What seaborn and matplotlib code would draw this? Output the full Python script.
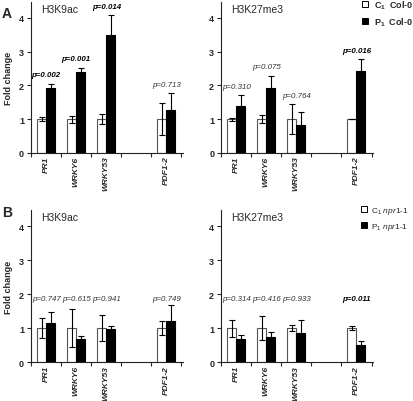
import numpy as np
import pandas as pd
import matplotlib
matplotlib.use("Agg")
import matplotlib.pyplot as plt
from matplotlib.lines import Line2D
import seaborn as sns

# genes on the x axis (one empty slot before PDF1-2)
genes = ["PR1", "WRKY6", "WRKY53", "PDF1-2"]
order = ["PR1", "WRKY6", "WRKY53", " ", "PDF1-2"]

# panel A, Col-0
a_k9_c = [1.0, 1.0, 1.0, 1.0]
a_k9_c_err = [0.05, 0.10, 0.15, 0.47]
a_k9_p = [1.92, 2.38, 3.48, 1.28]
a_k9_p_err = [0.13, 0.14, 0.59, 0.48]
a_k9_pval = ["p=0.002", "p=0.001", "p=0.014", "p=0.713"]
a_k9_sig = [True, True, True, False]

a_k27_c = [1.0, 1.0, 1.0, 1.0]
a_k27_c_err = [0.04, 0.12, 0.44, 0.01]
a_k27_p = [1.38, 1.91, 0.82, 2.42]
a_k27_p_err = [0.32, 0.37, 0.40, 0.35]
a_k27_pval = ["p=0.310", "p=0.075", "p=0.764", "p=0.016"]
a_k27_sig = [False, False, False, True]

# panel B, npr1-1
b_k9_c = [1.0, 1.0, 1.0, 1.0]
b_k9_c_err = [0.30, 0.56, 0.38, 0.20]
b_k9_p = [1.15, 0.68, 0.97, 1.22]
b_k9_p_err = [0.32, 0.08, 0.08, 0.47]
b_k9_pval = ["p=0.747", "p=0.615", "p=0.941", "p=0.749"]
b_k9_sig = [False, False, False, False]

b_k27_c = [1.0, 1.0, 1.0, 1.0]
b_k27_c_err = [0.25, 0.35, 0.09, 0.05]
b_k27_p = [0.69, 0.74, 0.85, 0.51]
b_k27_p_err = [0.10, 0.14, 0.40, 0.12]
b_k27_pval = ["p=0.314", "p=0.416", "p=0.933", "p=0.011"]
b_k27_sig = [False, False, False, True]

sns.set_style("ticks")
plt.rcParams["font.family"] = ["Liberation Sans", "DejaVu Sans"]
plt.rcParams["mathtext.fontset"] = "custom"
plt.rcParams["mathtext.rm"] = "Liberation Sans"
plt.rcParams["mathtext.it"] = "Liberation Sans:italic"
plt.rcParams["mathtext.bf"] = "Liberation Sans:bold"
plt.rcParams["axes.linewidth"] = 0.8

fig = plt.figure(figsize=(4.14, 4.02), dpi=100)
ax_a1 = fig.add_axes([0.075, 0.617, 0.367, 0.376])
ax_a2 = fig.add_axes([0.534, 0.617, 0.367, 0.376])
ax_b1 = fig.add_axes([0.075, 0.097, 0.367, 0.378])
ax_b2 = fig.add_axes([0.534, 0.097, 0.367, 0.378])


def panel(ax, title, c, c_err, p, p_err, pvals, sig, pval_y=None, ylabel=True):
    df = pd.DataFrame({
        "gene": genes * 2,
        "group": ["C"] * len(genes) + ["P"] * len(genes),
        "value": c + p,
        "err": c_err + p_err,
    })
    sns.barplot(data=df, x="gene", y="value", hue="group", order=order,
                hue_order=["C", "P"], palette={"C": "white", "P": "black"},
                width=0.6, errorbar=None, linewidth=0.8, legend=False, ax=ax)
    errs = {(g, grp): e for g, grp, e in zip(df.gene, df.group, df.err)}
    for cont, grp in zip(ax.containers, ["C", "P"]):
        for bar in cont:
            bar.set_edgecolor("#555555" if grp == "C" else "black")
            xc = bar.get_x() + bar.get_width() / 2
            g = order[int(round(xc))]
            ax.errorbar(xc, bar.get_height(), yerr=errs[(g, grp)], fmt="none",
                        ecolor="black", elinewidth=0.8, capsize=2, capthick=0.8)

    for i, g in enumerate(genes):
        x = order.index(g)
        if pval_y is None:
            y = max(c[i] + c_err[i], p[i] + p_err[i]) + 0.27
        else:
            y = pval_y
        ax.text(x, y, pvals[i], ha="center", va="center", fontsize=5.7,
                style="italic", fontweight="bold" if sig[i] else "normal",
                color="black" if sig[i] else "#333333")

    ax.set_xlim(-0.5, 4.55)
    ax.set_ylim(0, 4.47)
    ax.set_yticks([0, 1, 2, 3, 4])
    ax.set_yticklabels(["0", "1", "2", "3", "4"], fontsize=6.5, fontweight="bold")
    ax.set_xticks(range(len(order)))
    ax.set_xticklabels([o.strip() for o in order], rotation=90, fontsize=6,
                       style="italic", fontweight="bold")
    ax.set_xticks(np.arange(-0.5, 5, 1), minor=True)
    ax.tick_params(axis="x", which="major", length=0, pad=2)
    ax.tick_params(axis="x", which="minor", length=3, width=0.8, direction="out")
    ax.tick_params(axis="y", length=3, width=0.8, direction="out", pad=2)
    ax.set_xlabel("")
    ax.set_ylabel("Fold change" if ylabel else "", fontsize=6.5,
                  fontweight="bold", labelpad=4)
    for s in ["left", "bottom"]:
        ax.spines[s].set_color("#222222")
    sns.despine(ax=ax)
    ax.text(0.066, 0.955, title, transform=ax.transAxes, ha="left",
            va="center", fontsize=7.5)


panel(ax_a1, "H3K9ac", a_k9_c, a_k9_c_err, a_k9_p, a_k9_p_err, a_k9_pval, a_k9_sig)
panel(ax_a2, "H3K27me3", a_k27_c, a_k27_c_err, a_k27_p, a_k27_p_err, a_k27_pval,
      a_k27_sig, ylabel=False)
panel(ax_b1, "H3K9ac", b_k9_c, b_k9_c_err, b_k9_p, b_k9_p_err, b_k9_pval, b_k9_sig,
      pval_y=1.88)
panel(ax_b2, "H3K27me3", b_k27_c, b_k27_c_err, b_k27_p, b_k27_p_err, b_k27_pval,
      b_k27_sig, pval_y=1.88, ylabel=False)

fig.text(0.005, 0.965, "A", fontsize=10, fontweight="bold", va="center")
fig.text(0.005, 0.47, "B", fontsize=10, fontweight="bold", va="center")

def legend_handles(fill):
    return Line2D([], [], ls="none", marker="s", markersize=4.5,
                  markerfacecolor=fill, markeredgecolor="black", markeredgewidth=0.7)

fig.legend([legend_handles("white"), legend_handles("black")],
           [r"C$_\mathbf{1}$  Col-0", r"P$_\mathbf{1}$  Col-0"],
           loc="upper left", bbox_to_anchor=(0.865, 1.01), frameon=False,
           prop={"size": 6.5, "weight": "bold"}, handlelength=0.8,
           handletextpad=0.6, labelspacing=0.45, borderaxespad=0)
fig.legend([legend_handles("white"), legend_handles("black")],
           [r"C$_1$ $\mathit{npr1}$-$\mathit{1}$", r"P$_1$ $\mathit{npr1}$-$\mathit{1}$"],
           loc="upper left", bbox_to_anchor=(0.862, 0.495), frameon=False,
           prop={"size": 6}, handlelength=0.8,
           handletextpad=0.5, labelspacing=0.5, borderaxespad=0)

fig.savefig("out.png", dpi=100)
